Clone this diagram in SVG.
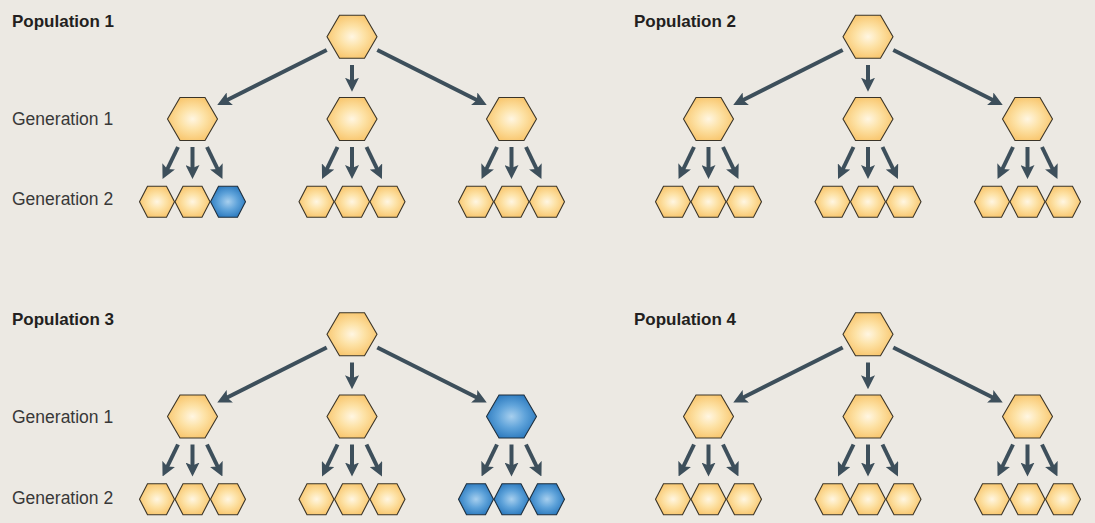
<svg xmlns="http://www.w3.org/2000/svg" xmlns:xlink="http://www.w3.org/1999/xlink" width="1095" height="523" viewBox="0 0 1095 523">
<defs>
<radialGradient id="gOr" cx="0.5" cy="0.5" r="0.55">
<stop offset="0" stop-color="#fff6e2"/>
<stop offset="0.45" stop-color="#fde2a6"/>
<stop offset="1" stop-color="#f8c46a"/>
</radialGradient>
<radialGradient id="gBl" cx="0.5" cy="0.5" r="0.55">
<stop offset="0" stop-color="#a7cfee"/>
<stop offset="0.5" stop-color="#5fa3da"/>
<stop offset="1" stop-color="#2a78bd"/>
</radialGradient>
<polygon id="hexL" points="-25,0 -12.5,-21.5 12.5,-21.5 25,0 12.5,21.5 -12.5,21.5"/>
<polygon id="hexS" points="-17.5,0 -9.5,-15.5 9.5,-15.5 17.5,0 9.5,15.5 -9.5,15.5"/>
<marker id="ah" viewBox="0 0 14 14" refX="4" refY="7" markerWidth="14" markerHeight="14" markerUnits="userSpaceOnUse" orient="auto">
<path d="M0,0 L14,7 L0,14 L3,7 Z" fill="#3d4f5b"/>
</marker>
</defs>
<style>
.or{fill:url(#gOr);stroke:#3a3428;stroke-width:1.1}
.bl{fill:url(#gBl);stroke:#1f2f3d;stroke-width:1.1}
.conn line{stroke:#3d4f5b;stroke-width:4;marker-end:url(#ah)}
.pop{font-family:"Liberation Sans",Arial,sans-serif;font-size:17px;font-weight:bold;fill:#231f20}
.gen{font-family:"Liberation Sans",Arial,sans-serif;font-size:17.5px;fill:#383838}
</style>
<rect x="0" y="0" width="1095" height="523" fill="#ece9e3"/>

<!-- labels -->
<text class="pop" x="12" y="27">Population 1</text>
<text class="gen" x="12" y="124.5">Generation 1</text>
<text class="gen" x="12" y="205">Generation 2</text>
<text class="pop" x="634" y="27">Population 2</text>
<text class="pop" x="12" y="325">Population 3</text>
<text class="gen" x="12" y="423">Generation 1</text>
<text class="gen" x="12" y="504">Generation 2</text>
<text class="pop" x="634" y="325">Population 4</text>

<!-- Population 1 -->
<g id="population1">
<g class="conn" id="p1-connectors">
<line x1="326.7" y1="50" x2="226.2" y2="100.5"/>
<line x1="352" y1="65" x2="352" y2="81.7"/>
<line x1="377.3" y1="50" x2="477.8" y2="100.5"/>
<line x1="178" y1="147" x2="166.9" y2="170"/>
<line x1="192.5" y1="147" x2="192.5" y2="169"/>
<line x1="207" y1="147" x2="218.1" y2="170"/>
<line x1="337.5" y1="147" x2="326.4" y2="170"/>
<line x1="352" y1="147" x2="352" y2="169"/>
<line x1="366.5" y1="147" x2="377.6" y2="170"/>
<line x1="497" y1="147" x2="485.9" y2="170"/>
<line x1="511.5" y1="147" x2="511.5" y2="169"/>
<line x1="526" y1="147" x2="537.1" y2="170"/>
</g>
<g id="p1-root" transform="translate(352,36.7)"><use href="#hexL" class="or"/></g>
<g id="p1-g1a" transform="translate(192.5,119)"><use href="#hexL" class="or"/></g>
<g id="p1-g1b" transform="translate(352,119)"><use href="#hexL" class="or"/></g>
<g id="p1-g1c" transform="translate(511.5,119)"><use href="#hexL" class="or"/></g>
<g id="p1-g2a1" transform="translate(157,201.7)"><use href="#hexS" class="or"/></g>
<g id="p1-g2a2" transform="translate(192.5,201.7)"><use href="#hexS" class="or"/></g>
<g id="p1-g2a3" transform="translate(228,201.7)"><use href="#hexS" class="bl"/></g>
<g id="p1-g2b1" transform="translate(316.5,201.7)"><use href="#hexS" class="or"/></g>
<g id="p1-g2b2" transform="translate(352,201.7)"><use href="#hexS" class="or"/></g>
<g id="p1-g2b3" transform="translate(387.5,201.7)"><use href="#hexS" class="or"/></g>
<g id="p1-g2c1" transform="translate(476,201.7)"><use href="#hexS" class="or"/></g>
<g id="p1-g2c2" transform="translate(511.5,201.7)"><use href="#hexS" class="or"/></g>
<g id="p1-g2c3" transform="translate(547,201.7)"><use href="#hexS" class="or"/></g>
</g>

<!-- Population 2 -->
<g id="population2" transform="translate(516,0)">
<g class="conn" id="p2-connectors">
<line x1="326.7" y1="50" x2="226.2" y2="100.5"/>
<line x1="352" y1="65" x2="352" y2="81.7"/>
<line x1="377.3" y1="50" x2="477.8" y2="100.5"/>
<line x1="178" y1="147" x2="166.9" y2="170"/>
<line x1="192.5" y1="147" x2="192.5" y2="169"/>
<line x1="207" y1="147" x2="218.1" y2="170"/>
<line x1="337.5" y1="147" x2="326.4" y2="170"/>
<line x1="352" y1="147" x2="352" y2="169"/>
<line x1="366.5" y1="147" x2="377.6" y2="170"/>
<line x1="497" y1="147" x2="485.9" y2="170"/>
<line x1="511.5" y1="147" x2="511.5" y2="169"/>
<line x1="526" y1="147" x2="537.1" y2="170"/>
</g>
<g id="p2-root" transform="translate(352,36.7)"><use href="#hexL" class="or"/></g>
<g id="p2-g1a" transform="translate(192.5,119)"><use href="#hexL" class="or"/></g>
<g id="p2-g1b" transform="translate(352,119)"><use href="#hexL" class="or"/></g>
<g id="p2-g1c" transform="translate(511.5,119)"><use href="#hexL" class="or"/></g>
<g id="p2-g2a1" transform="translate(157,201.7)"><use href="#hexS" class="or"/></g>
<g id="p2-g2a2" transform="translate(192.5,201.7)"><use href="#hexS" class="or"/></g>
<g id="p2-g2a3" transform="translate(228,201.7)"><use href="#hexS" class="or"/></g>
<g id="p2-g2b1" transform="translate(316.5,201.7)"><use href="#hexS" class="or"/></g>
<g id="p2-g2b2" transform="translate(352,201.7)"><use href="#hexS" class="or"/></g>
<g id="p2-g2b3" transform="translate(387.5,201.7)"><use href="#hexS" class="or"/></g>
<g id="p2-g2c1" transform="translate(476,201.7)"><use href="#hexS" class="or"/></g>
<g id="p2-g2c2" transform="translate(511.5,201.7)"><use href="#hexS" class="or"/></g>
<g id="p2-g2c3" transform="translate(547,201.7)"><use href="#hexS" class="or"/></g>
</g>

<!-- Population 3 -->
<g id="population3" transform="translate(0,297.5)">
<g class="conn" id="p3-connectors">
<line x1="326.7" y1="50" x2="226.2" y2="100.5"/>
<line x1="352" y1="65" x2="352" y2="81.7"/>
<line x1="377.3" y1="50" x2="477.8" y2="100.5"/>
<line x1="178" y1="147" x2="166.9" y2="170"/>
<line x1="192.5" y1="147" x2="192.5" y2="169"/>
<line x1="207" y1="147" x2="218.1" y2="170"/>
<line x1="337.5" y1="147" x2="326.4" y2="170"/>
<line x1="352" y1="147" x2="352" y2="169"/>
<line x1="366.5" y1="147" x2="377.6" y2="170"/>
<line x1="497" y1="147" x2="485.9" y2="170"/>
<line x1="511.5" y1="147" x2="511.5" y2="169"/>
<line x1="526" y1="147" x2="537.1" y2="170"/>
</g>
<g id="p3-root" transform="translate(352,36.7)"><use href="#hexL" class="or"/></g>
<g id="p3-g1a" transform="translate(192.5,119)"><use href="#hexL" class="or"/></g>
<g id="p3-g1b" transform="translate(352,119)"><use href="#hexL" class="or"/></g>
<g id="p3-g1c" transform="translate(511.5,119)"><use href="#hexL" class="bl"/></g>
<g id="p3-g2a1" transform="translate(157,201.7)"><use href="#hexS" class="or"/></g>
<g id="p3-g2a2" transform="translate(192.5,201.7)"><use href="#hexS" class="or"/></g>
<g id="p3-g2a3" transform="translate(228,201.7)"><use href="#hexS" class="or"/></g>
<g id="p3-g2b1" transform="translate(316.5,201.7)"><use href="#hexS" class="or"/></g>
<g id="p3-g2b2" transform="translate(352,201.7)"><use href="#hexS" class="or"/></g>
<g id="p3-g2b3" transform="translate(387.5,201.7)"><use href="#hexS" class="or"/></g>
<g id="p3-g2c1" transform="translate(476,201.7)"><use href="#hexS" class="bl"/></g>
<g id="p3-g2c2" transform="translate(511.5,201.7)"><use href="#hexS" class="bl"/></g>
<g id="p3-g2c3" transform="translate(547,201.7)"><use href="#hexS" class="bl"/></g>
</g>

<!-- Population 4 -->
<g id="population4" transform="translate(516,297.5)">
<g class="conn" id="p4-connectors">
<line x1="326.7" y1="50" x2="226.2" y2="100.5"/>
<line x1="352" y1="65" x2="352" y2="81.7"/>
<line x1="377.3" y1="50" x2="477.8" y2="100.5"/>
<line x1="178" y1="147" x2="166.9" y2="170"/>
<line x1="192.5" y1="147" x2="192.5" y2="169"/>
<line x1="207" y1="147" x2="218.1" y2="170"/>
<line x1="337.5" y1="147" x2="326.4" y2="170"/>
<line x1="352" y1="147" x2="352" y2="169"/>
<line x1="366.5" y1="147" x2="377.6" y2="170"/>
<line x1="497" y1="147" x2="485.9" y2="170"/>
<line x1="511.5" y1="147" x2="511.5" y2="169"/>
<line x1="526" y1="147" x2="537.1" y2="170"/>
</g>
<g id="p4-root" transform="translate(352,36.7)"><use href="#hexL" class="or"/></g>
<g id="p4-g1a" transform="translate(192.5,119)"><use href="#hexL" class="or"/></g>
<g id="p4-g1b" transform="translate(352,119)"><use href="#hexL" class="or"/></g>
<g id="p4-g1c" transform="translate(511.5,119)"><use href="#hexL" class="or"/></g>
<g id="p4-g2a1" transform="translate(157,201.7)"><use href="#hexS" class="or"/></g>
<g id="p4-g2a2" transform="translate(192.5,201.7)"><use href="#hexS" class="or"/></g>
<g id="p4-g2a3" transform="translate(228,201.7)"><use href="#hexS" class="or"/></g>
<g id="p4-g2b1" transform="translate(316.5,201.7)"><use href="#hexS" class="or"/></g>
<g id="p4-g2b2" transform="translate(352,201.7)"><use href="#hexS" class="or"/></g>
<g id="p4-g2b3" transform="translate(387.5,201.7)"><use href="#hexS" class="or"/></g>
<g id="p4-g2c1" transform="translate(476,201.7)"><use href="#hexS" class="or"/></g>
<g id="p4-g2c2" transform="translate(511.5,201.7)"><use href="#hexS" class="or"/></g>
<g id="p4-g2c3" transform="translate(547,201.7)"><use href="#hexS" class="or"/></g>
</g>
</svg>
